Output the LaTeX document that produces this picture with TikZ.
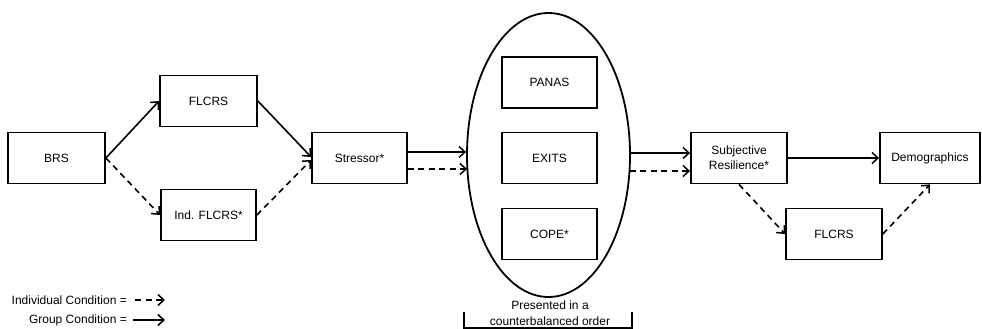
\documentclass[tikz,border=0pt]{standalone}
\usepackage{fontspec}
\setmainfont{Liberation Sans}
\usetikzlibrary{arrows.meta,shapes.geometric}
\begin{document}
\begin{tikzpicture}[x=1pt,y=-1pt,
  box/.style={draw,line width=1.8pt,inner sep=0pt,minimum height=51pt,align=center,font=\fontsize{12}{15}\selectfont},
  arr/.style={line width=1.6pt,-{Straight Barb[length=6pt,width=11pt,line width=1.5pt]}},
  dsh/.style={arr,dash pattern=on 6pt off 4.5pt},
  lbl/.style={inner sep=0pt,font=\fontsize{12}{16}\selectfont}]
\useasboundingbox (0,0) rectangle (982,329);
\node[box,minimum width=97pt] (brs) at (56.5,158) {BRS};
\node[box,minimum width=97pt] (fl1) at (208.5,101) {FLCRS};
\node[box,minimum width=95pt] (ind) at (208.5,215) {Ind. FLCRS*};
\node[box,minimum width=95pt] (str) at (359.5,158) {Stressor*};
\node[draw,ellipse,line width=1.8pt,minimum width=163pt,minimum height=284pt,inner sep=0pt] (ell) at (548.5,155) {};
\node[box,minimum width=95pt] (pan) at (549.5,82.5) {PANAS};
\node[box,minimum width=95pt] (exi) at (549.5,158) {EXITS};
\node[box,minimum width=95pt] (cop) at (549.5,234) {COPE*};
\node[box,minimum width=96pt] (sub) at (739,158) {Subjective\\Resilience*};
\node[box,minimum width=100pt] (dem) at (930,158) {Demographics};
\node[box,minimum width=96pt] (fl2) at (834,234) {FLCRS};

\draw[arr] (brs.east) -- (fl1.west);
\draw[dsh] (brs.east) -- (ind.west);
\draw[arr] (fl1.east) -- ([yshift=1pt]str.west);
\draw[dsh] (ind.east) -- ([yshift=-2pt]str.west);
\draw[arr] ([yshift=6pt]str.east) -- ([yshift=6pt]str.east -| ell.west);
\draw[dsh] ([yshift=-11pt]str.east) -- ([yshift=-11pt,xshift=1pt]str.east -| ell.west);
\draw[arr] ([yshift=5pt]sub.west -| ell.east) -- ([yshift=5pt]sub.west);
\draw[dsh] ([yshift=-13pt,xshift=-1pt]sub.west -| ell.east) -- ([yshift=-13pt]sub.west);
\draw[arr] (sub.east) -- (dem.west);
\draw[dsh] (sub.south) -- (fl2.west);
\draw[dsh] (fl2.east) -- (dem.south);

\node[lbl,anchor=east] (l1) at (127,300) {Individual Condition =};
\node[lbl,anchor=east] (l2) at (127,320) {Group Condition =};
\coordinate (l1e) at (165,300);
\coordinate (l2e) at (165,320);
\draw[dsh,line width=1.9pt] ([xshift=8pt]l1.east) -- (l1e);
\draw[arr,line width=1.9pt] ([xshift=6pt]l2.east) -- (l2e);

\node[lbl,align=center] (pres) at (550,313) {Presented in a\\counterbalanced order};
\coordinate (b1) at (464,312);
\coordinate (b2) at (464,328);
\coordinate (b3) at (632,328);
\coordinate (b4) at (632,312);
\draw[line width=1.8pt] (b1) -- (b2) -- (b3) -- (b4);
\end{tikzpicture}
\end{document}
